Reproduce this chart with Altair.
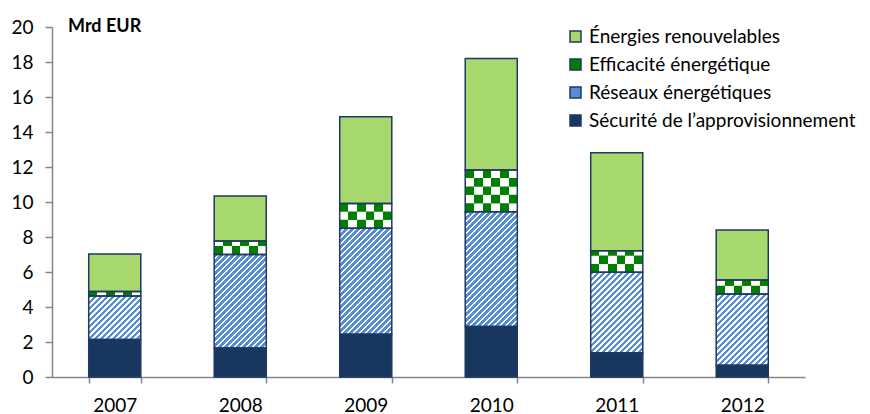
import altair as alt

# ---- data (Mrd EUR) ----
years = ["2007", "2008", "2009", "2010", "2011", "2012"]
securite = [2.15, 1.66, 2.44, 2.88, 1.39, 0.67]
reseaux = [2.48, 5.34, 6.06, 6.57, 4.59, 4.07]
efficacite = [0.25, 0.77, 1.42, 2.38, 1.24, 0.80]
renouvelables = [2.15, 2.57, 4.95, 6.37, 5.60, 2.86]

series_names = [
    "Énergies renouvelables",
    "Efficacité énergétique",
    "Réseaux énergétiques",
    "Sécurité de l\u2019approvisionnement",
]
series_colors = ["#A6D86E", "#008000", "#558ED5", "#17375E"]
y_ticks = list(range(0, 21, 2))
unit_label = "Mrd EUR"

# ---- layout / style ----
W, H = 753, 350
YMAX = 20
PX = H / YMAX
P_INNER = 0.585
STEP = W / (len(years) - P_INNER + P_INNER)
BAR_W = STEP * (1 - P_INNER)
STRIPE_P = 6.0      # stripe period (px, along x)
BLUE_FRAC = 0.55
CELL = 8.4          # checker cell (px)
BLUE, WHITE, GREEN = "#558ED5", "#FFFFFF", "#008000"
FONT = "Lato"


def stripe_gradient(h):
    w = BAR_W
    r = h / w
    s = 1.25
    L = w * s * (1 + r * r)
    stops = []
    k = 0
    while k * STRIPE_P / L < 1:
        a = k * STRIPE_P / L
        b = min((k * STRIPE_P + STRIPE_P * BLUE_FRAC) / L, 1)
        c = min((k + 1) * STRIPE_P / L, 1)
        stops += [{"offset": a, "color": BLUE}, {"offset": b, "color": BLUE},
                  {"offset": b, "color": WHITE}, {"offset": c, "color": WHITE}]
        k += 1
    return {"gradient": "linear", "x1": 0, "y1": 0, "x2": s, "y2": s * r, "stops": stops}


def checker_gradient(phase):
    n = 6
    stops = []
    for k in range(n):
        col = GREEN if (k + phase) % 2 == 0 else WHITE
        stops += [{"offset": k / n, "color": col}, {"offset": (k + 1) / n, "color": col}]
    return {"gradient": "linear", "x1": 0, "y1": 0, "x2": 1, "y2": 0, "stops": stops}


segments, stripes, checks = [], [], []
for i, yr in enumerate(years):
    vals = [securite[i], reseaux[i], efficacite[i], renouvelables[i]]
    names = [series_names[3], series_names[2], series_names[1], series_names[0]]
    base = 0.0
    for v, nm in zip(vals, names):
        segments.append({"year": yr, "serie": nm, "y0": base, "y1": base + v})
        if nm == series_names[2]:
            stripes.append({"year": yr, "y0": base, "y1": base + v,
                            "grad": stripe_gradient(v * PX)})
        if nm == series_names[1]:
            cu = CELL / PX
            j = 0
            lo = base
            while lo < base + v - 1e-9:
                hi = min(lo + cu, base + v)
                checks.append({"year": yr, "y0": lo, "y1": hi,
                               "grad": checker_gradient(j % 2)})
                lo = hi
                j += 1
        base += v

x_enc = alt.X(
    "year:N",
    scale=alt.Scale(domain=years, paddingInner=P_INNER, paddingOuter=P_INNER / 2),
    axis=alt.Axis(title=None, labelAngle=0, tickBand="extent", tickSize=6,
                  labelPadding=13, domainColor="#868686", tickColor="#868686",
                  domainWidth=1.5, tickWidth=1.5),
)
y_enc = alt.Y(
    "y0:Q",
    scale=alt.Scale(domain=[0, YMAX], nice=False, zero=True),
    axis=alt.Axis(title=None, values=y_ticks, grid=False, tickSize=7,
                  labelPadding=12, domainColor="#868686", tickColor="#868686",
                  domainWidth=1.5, tickWidth=1.5),
)

base_layer = alt.Chart(alt.Data(values=segments)).mark_bar(strokeWidth=0).encode(
    x=x_enc, y=y_enc, y2="y1:Q",
    color=alt.Color(
        "serie:N",
        scale=alt.Scale(domain=series_names, range=series_colors),
        legend=alt.Legend(
            title=None, orient="none", legendX=514, legendY=0, padding=0,
            symbolType="square", symbolSize=121, symbolStrokeColor="#1F3A60",
            symbolStrokeWidth=1.5, labelFont=FONT, labelFontSize=19,
            labelColor="#000000", labelOffset=4, rowPadding=8, labelLimit=0,
        ),
    ),
)

stripe_layer = alt.Chart(alt.Data(values=stripes)).mark_bar(strokeWidth=0).encode(
    x=x_enc, y=y_enc, y2="y1:Q",
    fill=alt.Fill("grad:N", scale=None),
)

check_layer = alt.Chart(alt.Data(values=checks)).mark_bar(strokeWidth=0).encode(
    x=x_enc, y=y_enc, y2="y1:Q",
    fill=alt.Fill("grad:N", scale=None),
)

outline_layer = alt.Chart(alt.Data(values=segments)).mark_bar(
    fillOpacity=0, stroke="#1F3A60", strokeWidth=1.5
).encode(x=x_enc, y=y_enc, y2="y1:Q")

title_layer = alt.Chart(alt.Data(values=[{"t": unit_label}])).mark_text(
    font=FONT, fontSize=18, fontWeight="bold", align="left", baseline="alphabetic",
    color="#000000",
).encode(x=alt.value(16), y=alt.value(5), text="t:N")

chart = alt.layer(base_layer, stripe_layer, check_layer, outline_layer, title_layer).properties(
    width=W, height=H,
    padding={"left": 44, "top": 19, "right": 53, "bottom": 37},
    autosize=alt.AutoSizeParams(type="none"),
).configure_view(stroke=None).configure_axis(
    labelFont=FONT, labelFontSize=19, labelColor="#000000"
)

chart.save("out.html", embed_options={"renderer": "svg", "actions": False})
